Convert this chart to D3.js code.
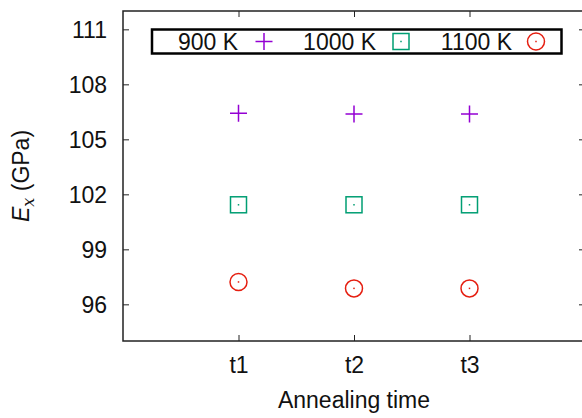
<!DOCTYPE html>
<html><head><meta charset="utf-8">
<script src="https://cdn.jsdelivr.net/npm/d3@7"></script>
<style>body{margin:0;background:#fff}svg{display:block;font-family:"Liberation Sans",Arial,sans-serif}</style>
</head><body>
<svg id="c" width="582" height="418"></svg>
<script>
const categories = ["t1", "t2", "t3"];
const seriesNames = ["900 K", "1000 K", "1100 K"];
const values900 = [106.42, 106.38, 106.38];
const values1000 = [101.43, 101.43, 101.43];
const values1100 = [97.22, 96.87, 96.87];
const yTicks = [96, 99, 102, 105, 108, 111];
const colors = ["#9400d3", "#009e73", "#e51e10"];
const shapes = ["plus", "square", "circle"];

const FS = 23;
const svg = d3.select("#c");
const L = 123, R = 585, T = 11, B = 341;
const x = d3.scaleLinear().domain([0, 4]).range([L, R]);
const y = d3.scaleLinear().domain([94, 112]).range([B, T]);
const xpos = (i) => x(i + 1);

// frame
svg.append("rect").attr("x", L).attr("y", T).attr("width", R - L).attr("height", B - T)
  .attr("fill", "none").attr("stroke", "#222").attr("stroke-width", 1.5);

// y axis ticks
const yAxis = d3.axisLeft(y).tickValues(yTicks).tickSize(-6).tickPadding(16).tickFormat(d3.format("d"));
const gy = svg.append("g").attr("transform", `translate(${L},0)`).call(yAxis);
gy.select(".domain").remove();
gy.selectAll("line").attr("stroke", "#222");
gy.selectAll("text").attr("font-size", FS).attr("fill", "#111").attr("dy", "0.36em");
const gy2 = svg.append("g").attr("transform", `translate(${R},0)`).call(d3.axisRight(y).tickValues(yTicks).tickSize(-6).tickFormat(""));
gy2.select(".domain").remove();
gy2.selectAll("line").attr("stroke", "#222");

// x axis ticks
const xAxis = d3.axisBottom(x).tickValues([1, 2, 3]).tickSize(-6).tickPadding(16).tickFormat(d => categories[d - 1]);
const gx = svg.append("g").attr("transform", `translate(0,${B})`).call(xAxis);
gx.select(".domain").remove();
gx.selectAll("line").attr("stroke", "#222");
gx.selectAll("text").attr("font-size", FS).attr("fill", "#111").attr("dy", "0.71em");
const gx2 = svg.append("g").attr("transform", `translate(0,${T})`).call(d3.axisTop(x).tickValues([1, 2, 3]).tickSize(-6).tickFormat(""));
gx2.select(".domain").remove();
gx2.selectAll("line").attr("stroke", "#222");

// axis labels
svg.append("text").attr("x", 354).attr("y", 408).attr("text-anchor", "middle")
  .attr("font-size", FS).attr("fill", "#111").text("Annealing time");
const yl = svg.append("text").attr("transform", `translate(29,${(T + B) / 2}) rotate(-90)`)
  .attr("text-anchor", "middle").attr("font-size", FS).attr("fill", "#111");
yl.append("tspan").attr("font-style", "italic").text("E");
yl.append("tspan").attr("font-style", "italic").attr("font-family", "'DejaVu Serif',serif").attr("font-size", 16).attr("dy", 5).text("x");
yl.append("tspan").attr("dy", -5).text(" (GPa)");

function marker(g, shape, cx, cy, color) {
  const s = 8.5;
  if (shape === "plus") {
    g.append("path").attr("d", `M${cx - s},${cy}H${cx + s}M${cx},${cy - s}V${cy + s}`)
      .attr("stroke", color).attr("stroke-width", 1.5).attr("fill", "none");
  } else if (shape === "square") {
    g.append("rect").attr("x", cx - s + 0.5).attr("y", cy - s + 0.5).attr("width", 2 * s - 1).attr("height", 2 * s - 1)
      .attr("stroke", color).attr("stroke-width", 1.5).attr("fill", "none");
    g.append("rect").attr("x", cx - 0.75).attr("y", cy - 0.75).attr("width", 1.5).attr("height", 1.5).attr("fill", color);
  } else {
    g.append("circle").attr("cx", cx).attr("cy", cy).attr("r", s).attr("stroke", color).attr("stroke-width", 1.5).attr("fill", "none");
    g.append("rect").attr("x", cx - 0.75).attr("y", cy - 0.75).attr("width", 1.5).attr("height", 1.5).attr("fill", color);
  }
}

const allSeries = [values900, values1000, values1100];
allSeries.forEach((vals, si) => {
  const g = svg.append("g");
  vals.forEach((v, i) => marker(g, shapes[si], xpos(i), y(v), colors[si]));
});

// legend
const lg = svg.append("g");
lg.append("rect").attr("x", 152).attr("y", 29.5).attr("width", 409.5).attr("height", 24)
  .attr("fill", "#fff").attr("stroke", "#000").attr("stroke-width", 2.5);
const legTextRight = [238, 376, 512];
const legMarkX = [264, 401, 536];
seriesNames.forEach((n, i) => {
  lg.append("text").attr("x", legTextRight[i]).attr("y", 41.5).attr("dy", "0.36em").attr("text-anchor", "end")
    .attr("font-size", FS).attr("fill", "#111").text(n);
  marker(lg, shapes[i], legMarkX[i], 41.5, colors[i]);
});
</script>
</body></html>
